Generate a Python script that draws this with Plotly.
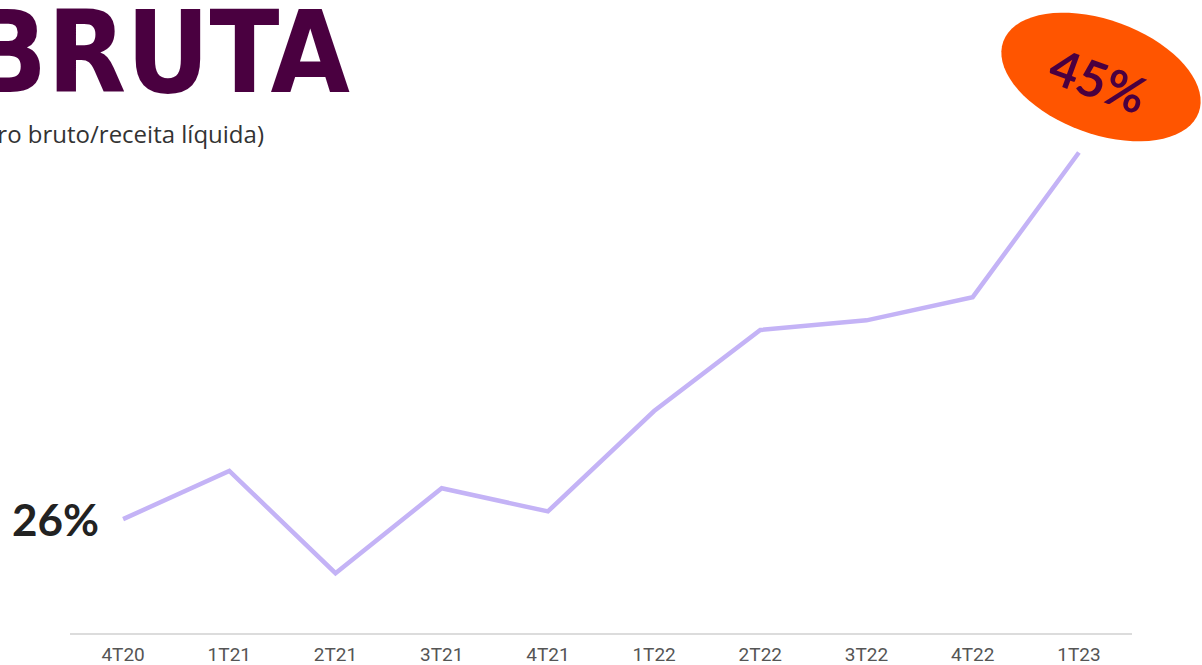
import numpy as np
import plotly.graph_objects as go

quarters = ["4T20", "1T21", "2T21", "3T21", "4T21", "1T22", "2T22", "3T22", "4T22", "1T23"]
margin_pct = [26.0, 28.5, 23.2, 27.6, 26.4, 31.6, 35.8, 36.3, 37.5, 45.0]
first_label = "26%"
last_label = "45%"
title_text = "BRUTA"
subtitle_text = "(lucro bruto/receita líquida)"

W, H = 1202, 665
ML, MR, MT, MB = 70, 70, 0, 32
PW, PH = W - ML - MR, H - MT - MB

fig = go.Figure()
fig.add_trace(go.Scatter(
    x=quarters, y=margin_pct, mode="lines",
    line=dict(color="#c4b3f6", width=4.5),
    hoverinfo="skip", showlegend=False,
))

def px2paper(px, py):
    return (px - ML) / PW, (H - MB - py) / PH

# rotated ellipse blob behind the last value
cx, cy, a, b, ang = 1101, 77, 104, 57, np.deg2rad(20)
t = np.linspace(0, 2 * np.pi, 73)
ex = cx + a * np.cos(t) * np.cos(ang) - b * np.sin(t) * np.sin(ang)
ey = cy + a * np.cos(t) * np.sin(ang) + b * np.sin(t) * np.cos(ang)
pts = [px2paper(x, y) for x, y in zip(ex, ey)]
path = "M " + " L ".join(f"{x:.5f},{y:.5f}" for x, y in pts) + " Z"
fig.add_shape(type="path", path=path, xref="paper", yref="paper",
              fillcolor="#ff5500", line=dict(width=0), layer="below")

# title and subtitle
tx, ty = px2paper(352, 95)
fig.add_annotation(text=f"<b>{title_text}</b>", x=tx, y=ty, xref="paper", yref="paper",
                   xanchor="right", yanchor="bottom", yshift=-26, showarrow=False,
                   font=dict(family="DejaVu Sans Condensed, DejaVu Sans", size=114, color="#4a0040"))
sx, sy = px2paper(266, 133)
fig.add_annotation(text=subtitle_text, x=sx, y=sy, xref="paper", yref="paper",
                   xanchor="right", yanchor="middle", showarrow=False,
                   font=dict(family="Open Sans", size=24, color="#333333"))

# value labels
fig.add_annotation(text=f"<b>{first_label}</b>", x=quarters[0], y=margin_pct[0],
                   xanchor="right", yanchor="middle", xshift=-22, showarrow=False,
                   font=dict(family="Lato", size=44, color="#222222"))
lx, ly = px2paper(1098, 80)
fig.add_annotation(text=f"<b>{last_label}</b>", x=lx, y=ly, xref="paper", yref="paper",
                   xanchor="center", yanchor="middle", showarrow=False, textangle=20,
                   font=dict(family="Lato", size=50, color="#4a0040"))

fig.update_layout(
    width=W, height=H,
    margin=dict(l=ML, r=MR, t=MT, b=MB),
    paper_bgcolor="white", plot_bgcolor="white",
    xaxis=dict(range=[-0.5, 9.5], showgrid=False, zeroline=False,
               showline=True, linecolor="#dcdcdc", linewidth=2,
               ticks="", ticklabelstandoff=3,
               tickfont=dict(family="Roboto", size=19, color="#555555")),
    yaxis=dict(range=[20.1, 52.9], visible=False, showgrid=False, zeroline=False),
)

fig.write_html("out.html", config={"displayModeBar": False},
               post_script="document.body.style.margin='0';document.body.style.overflow='hidden';")
